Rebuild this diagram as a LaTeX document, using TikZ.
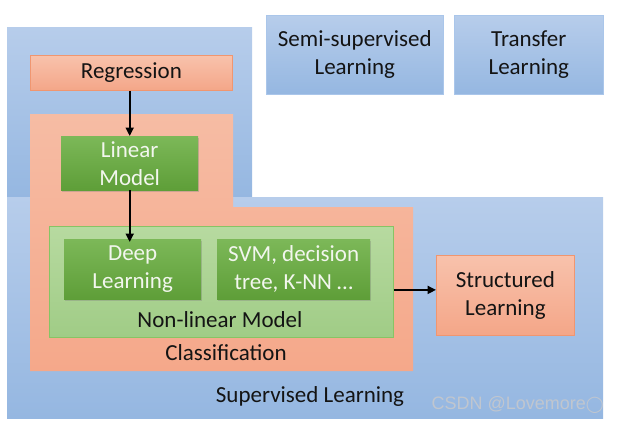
\documentclass[tikz,border=0pt]{standalone}
\usepackage{fontspec}
\setmainfont{Carlito}
\newfontfamily\wmfont{Liberation Sans}
\newfontfamily\symfont{DejaVu Sans}
\usetikzlibrary{arrows.meta,shadows,calc}
\definecolor{bTop}{RGB}{183,205,235}
\definecolor{bBot}{RGB}{149,183,225}
\definecolor{bEdge}{RGB}{170,198,234}
\definecolor{oTop}{RGB}{248,194,172}
\definecolor{oBot}{RGB}{244,166,136}
\definecolor{oEdge}{RGB}{240,150,112}
\definecolor{cTop}{RGB}{246,188,164}
\definecolor{cBot}{RGB}{245,168,138}
\definecolor{gTop}{RGB}{124,184,88}
\definecolor{gBot}{RGB}{94,158,56}
\definecolor{lgTop}{RGB}{183,218,160}
\definecolor{lgBot}{RGB}{160,204,134}
\definecolor{lgEdge}{RGB}{135,196,100}
\definecolor{txt}{RGB}{20,20,20}
\definecolor{gtxt}{RGB}{242,246,238}
\definecolor{wmgray}{RGB}{192,198,207}
\begin{document}
\begin{tikzpicture}[x=1pt,y=-1pt,
  box/.style={rectangle, inner sep=0pt, anchor=north west, align=center,
    font=\fontsize{23}{28}\selectfont, text=txt},
  bluebox/.style={box, top color=bTop, bottom color=bBot, draw=bEdge, line width=0.6pt},
  orangebox/.style={box, top color=oTop, bottom color=oBot, draw=oEdge, line width=0.8pt},
  greenbox/.style={box, top color=gTop, bottom color=gBot, text=gtxt,
    drop shadow={opacity=0.35, shadow xshift=1pt, shadow yshift=-1.5pt}},
  lightgreen/.style={box, top color=lgTop, bottom color=lgBot, draw=lgEdge, line width=0.8pt},
  lbl/.style={inner sep=0pt, font=\fontsize{23}{28}\selectfont, text=txt},
  arr/.style={line width=2pt, -{Triangle[length=8.5pt,width=8pt]}}]
\useasboundingbox (0,0) rectangle (619,424);
% supervised learning region (blue)
\path[top color=bTop, bottom color=bBot] (7,27) rectangle (252,197);
\path[top color=bTop, bottom color=bBot] (7,197) rectangle (603,418);
% semi-supervised & transfer
\node[bluebox, minimum width=177pt, minimum height=79pt] (semi) at (266,15) {Semi-supervised\\Learning};
\node[bluebox, minimum width=149pt, minimum height=79pt] (transfer) at (454,15) {Transfer\\Learning};
% classification region (orange)
\path[top color=cTop, bottom color=cBot] (30,114) -- (233,114) -- (233,207) -- (413,207) -- (413,371) -- (30,371) -- cycle;
% regression
\node[orangebox, minimum width=202pt, minimum height=35pt] (reg) at (30,55) {Regression};
% linear model
\node[greenbox, minimum width=137pt, minimum height=54pt] (lin) at (61,136) {Linear\\Model};
% non-linear model
\node[lightgreen, minimum width=344pt, minimum height=111pt] (nonlin) at (49,226) {};
\node[greenbox, minimum width=137pt, minimum height=60pt] (deep) at (64,239) {Deep\\Learning};
\node[greenbox, minimum width=153pt, minimum height=60pt] (svm) at (217,239) {SVM, decision\\tree, K-NN \ldots};
\node[lbl] (nonlinlbl) at (220,320) {Non-linear Model};
\node[lbl] (classlbl) at (226,353) {Classification};
% structured learning
\node[orangebox, minimum width=138pt, minimum height=80pt] (struct) at (436,255) {Structured\\Learning};
\node[lbl] (suplbl) at (310,396) {Supervised Learning};
% arrows
\draw[arr] (reg.south -| lin.north) -- (lin.north);
\draw[arr] (lin.south) -- ($(lin.south |- deep.north)+(0,3)$);
\draw[arr] ([yshift=-8pt]nonlin.east) -- ([yshift=-8pt]nonlin.east -| struct.west);
% watermark
\node[inner sep=0pt, anchor=east, font=\wmfont\fontsize{18}{20}\selectfont, text=wmgray] (wm) at (604,405) {CSDN @Lovemore{\symfont\fontsize{16}{18}\selectfont ◯}};
\end{tikzpicture}
\end{document}
